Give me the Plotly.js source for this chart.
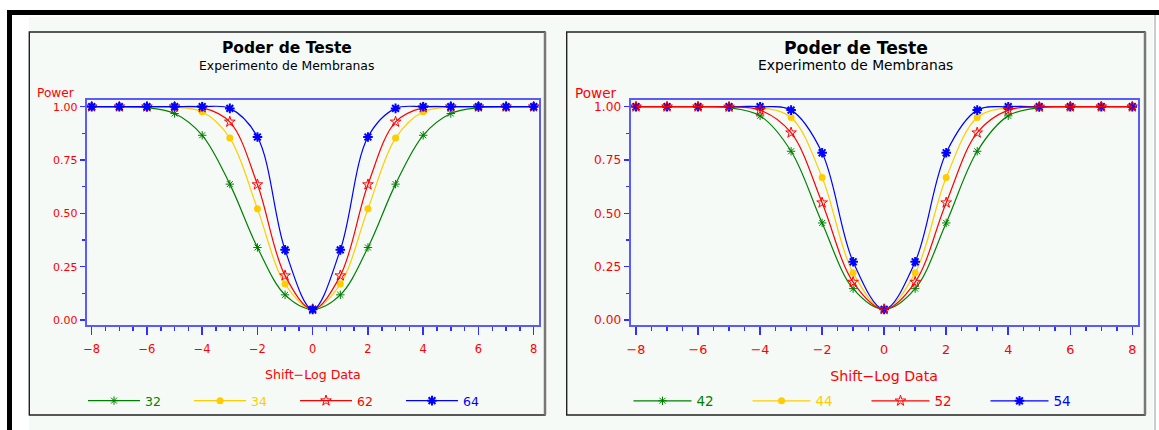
<!DOCTYPE html>
<html><head><meta charset="utf-8">
<script src="https://cdn.plot.ly/plotly-3.0.1.min.js"></script>
<style>html,body{margin:0;padding:0;background:#fff;} #chart{width:1159px;height:430px;}</style>
</head><body><div id="chart"></div>
<script>
// ---- data ----
const shift = [-8,-7,-6,-5,-4,-3,-2,-1,0,1,2,3,4,5,6,7,8];
// left panel
const power32 = [1.000,0.999,0.995,0.968,0.866,0.637,0.340,0.118,0.050,0.118,0.340,0.637,0.866,0.968,0.995,0.999,1.000];
const power34 = [1.000,1.000,1.000,0.998,0.976,0.853,0.521,0.169,0.050,0.169,0.521,0.853,0.976,0.998,1.000,1.000,1.000];
const power62 = [1.000,1.000,1.000,1.000,0.996,0.929,0.635,0.208,0.050,0.208,0.635,0.929,0.996,1.000,1.000,1.000,1.000];
const power64 = [1.000,1.000,1.000,1.000,1.000,0.992,0.858,0.329,0.050,0.329,0.858,0.992,1.000,1.000,1.000,1.000,1.000];
// right panel
const power42 = [1.000,1.000,1.000,0.995,0.957,0.791,0.455,0.147,0.050,0.147,0.455,0.791,0.957,0.995,1.000,1.000,1.000];
const power44 = [1.000,1.000,1.000,1.000,0.997,0.949,0.668,0.221,0.050,0.221,0.668,0.949,0.997,1.000,1.000,1.000,1.000];
const power52 = [1.000,1.000,1.000,0.999,0.984,0.878,0.550,0.178,0.050,0.178,0.550,0.878,0.984,0.999,1.000,1.000,1.000];
const power54 = [1.000,1.000,1.000,1.000,1.000,0.984,0.784,0.273,0.050,0.273,0.784,0.984,1.000,1.000,1.000,1.000,1.000];
const labelsLeft = ['32','34','62','64'];
const labelsRight = ['42','44','52','54'];
const mainTitle = 'Poder de Teste';
const subTitle = 'Experimento de Membranas';
const xTitle = 'Shift\u2212Log Data';
const yTitle = 'Power';

// ---- styles ----
const W = 1159, H = 430;
const px = v => v / W;
const py = v => 1 - v / H;
const BG = '#f5faf7';
const FONT = 'DejaVu Sans';
const GREEN = '#008000', YELLOW = '#ffcc00', RED = '#ff0000', BLUE = '#0000ff';
const styles = [
  {color: GREEN, symbol: 'asterisk-open', size: 7, lw: 1},
  {color: YELLOW, symbol: 'circle', size: 7, lw: 0},
  {color: RED, symbol: 'star-open', size: 8, lw: 1},
  {color: BLUE, symbol: 'asterisk-open', size: 8, lw: 2}
];

function trace(y, label, st, xa, ya, legend, rank) {
  return {
    type: 'scatter', mode: 'lines+markers', x: shift, y: y,
    xaxis: xa, yaxis: ya, legend: legend, legendrank: rank,
    name: '<span style="color:' + st.color + '">' + label + '</span>',
    line: {color: st.color, width: 1.2, shape: 'spline', smoothing: 1},
    marker: {color: st.color, symbol: st.symbol, size: st.size, line: {color: st.color, width: st.lw}},
    hoverinfo: 'x+y'
  };
}

const left = [power32, power34, power62, power64];
const right = [power42, power44, power52, power54];
const data = [];
left.forEach((y, i) => data.push(trace(y, labelsLeft[i], styles[i], 'x', 'y', 'legend', i + 1)));
// right panel: red drawn last (on top), legend order kept via legendrank
[0, 1, 3, 2].forEach(i => data.push(trace(right[i], labelsRight[i], styles[i], 'x2', 'y2', 'legend2', i + 1)));

function xAxis(domain, range, fs, tfs, anchor) {
  return {
    domain: domain, range: range, anchor: anchor,
    tickmode: 'linear', tick0: -8, dtick: 2,
    ticks: 'outside', ticklen: 8, tickwidth: 1.5, tickcolor: '#3030ff',
    minor: {tick0: -8, dtick: 0.5, ticks: 'outside', ticklen: 4, tickwidth: 1.5, tickcolor: '#3030ff', showgrid: false},
    showline: true, mirror: true, linecolor: '#5a5aff', linewidth: 2,
    showgrid: false, zeroline: false, automargin: false,
    tickfont: {family: FONT, size: tfs, color: RED},
    ticklabelstandoff: 4,
    title: {text: xTitle, font: {family: FONT, size: fs, color: RED}, standoff: 15}
  };
}
function yAxis(range, tfs, anchor) {
  return {
    domain: [py(325), py(100)], range: range, anchor: anchor,
    tickmode: 'linear', tick0: 0, dtick: 0.25, tickformat: '.2f',
    ticks: 'outside', ticklen: 5, tickwidth: 1.5, tickcolor: '#3030ff',
    minor: {tick0: 0, dtick: 0.125, ticks: 'outside', ticklen: 3, tickwidth: 1.5, tickcolor: '#3030ff', showgrid: false},
    showline: true, mirror: true, linecolor: '#5a5aff', linewidth: 2,
    showgrid: false, zeroline: false, automargin: false,
    tickfont: {family: FONT, size: tfs, color: RED}
  };
}

const yRange = [-0.0234, 1.0314];
const layout = {
  width: W, height: H, autosize: false,
  margin: {l: 0, r: 0, t: 0, b: 0},
  paper_bgcolor: '#ffffff', plot_bgcolor: 'rgba(0,0,0,0)',
  showlegend: true,
  xaxis: xAxis([px(86.7), px(539)], [-8.181, 8.192], 12.6, 11.5, 'y'),
  yaxis: yAxis(yRange, 11, 'x'),
  xaxis2: xAxis([px(630.6), px(1137.7)], [-8.174, 8.174], 14.2, 12.8, 'y2'),
  yaxis2: yAxis(yRange, 12.2, 'x2'),
  legend: {orientation: 'h', x: px(83), xanchor: 'left', y: py(401), yanchor: 'middle',
    itemwidth: 52, entrywidth: 39, entrywidthmode: 'pixels', bgcolor: 'rgba(0,0,0,0)',
    font: {family: FONT, size: 12.5}, traceorder: 'normal'},
  legend2: {orientation: 'h', x: px(628.5), xanchor: 'left', y: py(401), yanchor: 'middle',
    itemwidth: 58, entrywidth: 46, entrywidthmode: 'pixels', bgcolor: 'rgba(0,0,0,0)',
    font: {family: FONT, size: 13.5}, traceorder: 'normal'},
  shapes: [
    // light background
    {type: 'rect', xref: 'paper', yref: 'paper', x0: px(29), x1: px(1153), y0: py(430), y1: py(17), fillcolor: BG, line: {width: 0}, layer: 'below'},
    // black outer frame
    {type: 'rect', xref: 'paper', yref: 'paper', x0: px(7), x1: px(1159), y0: py(15), y1: py(10), fillcolor: '#000', line: {width: 0}, layer: 'below'},
    {type: 'rect', xref: 'paper', yref: 'paper', x0: px(7), x1: px(12), y0: py(430), y1: py(10), fillcolor: '#000', line: {width: 0}, layer: 'below'},
    {type: 'line', xref: 'paper', yref: 'paper', x0: px(1155), x1: px(1155), y0: py(430), y1: py(15), line: {color: '#bbbbbb', width: 1.5}, layer: 'below'},
    // panel boxes
    {type: 'rect', xref: 'paper', yref: 'paper', x0: px(29.3), x1: px(545), y0: py(415), y1: py(32), line: {color: '#222', width: 1.4}, layer: 'below'},
    {type: 'line', xref: 'paper', yref: 'paper', x0: px(545), x1: px(545), y0: py(415), y1: py(32), line: {color: '#777', width: 2.5}, layer: 'below'},
    {type: 'rect', xref: 'paper', yref: 'paper', x0: px(566.7), x1: px(1145), y0: py(415), y1: py(32), line: {color: '#222', width: 1.4}, layer: 'below'},
    {type: 'line', xref: 'paper', yref: 'paper', x0: px(1145), x1: px(1145), y0: py(415), y1: py(32), line: {color: '#777', width: 2.5}, layer: 'below'}
  ],
  annotations: [
    {xref: 'paper', yref: 'paper', x: px(287), y: py(47.7), xanchor: 'center', yanchor: 'middle', showarrow: false,
      text: '<b>' + mainTitle + '</b>', font: {family: FONT, size: 15.5, color: '#000'}},
    {xref: 'paper', yref: 'paper', x: px(286), y: py(65), xanchor: 'center', yanchor: 'middle', showarrow: false,
      text: subTitle, font: {family: FONT, size: 12.4, color: '#000'}},
    {xref: 'paper', yref: 'paper', x: px(856), y: py(47.7), xanchor: 'center', yanchor: 'middle', showarrow: false,
      text: '<b>' + mainTitle + '</b>', font: {family: FONT, size: 17.2, color: '#000'}},
    {xref: 'paper', yref: 'paper', x: px(855), y: py(65), xanchor: 'center', yanchor: 'middle', showarrow: false,
      text: subTitle, font: {family: FONT, size: 13.8, color: '#000'}},
    {xref: 'paper', yref: 'paper', x: px(77), y: py(92.7), xanchor: 'right', yanchor: 'middle', showarrow: false,
      text: yTitle, font: {family: FONT, size: 12.2, color: RED}},
    {xref: 'paper', yref: 'paper', x: px(619.3), y: py(92.7), xanchor: 'right', yanchor: 'middle', showarrow: false,
      text: yTitle, font: {family: FONT, size: 13.6, color: RED}}
  ]
};

Plotly.newPlot('chart', data, layout, {displayModeBar: false, staticPlot: true});
</script>
</body></html>
